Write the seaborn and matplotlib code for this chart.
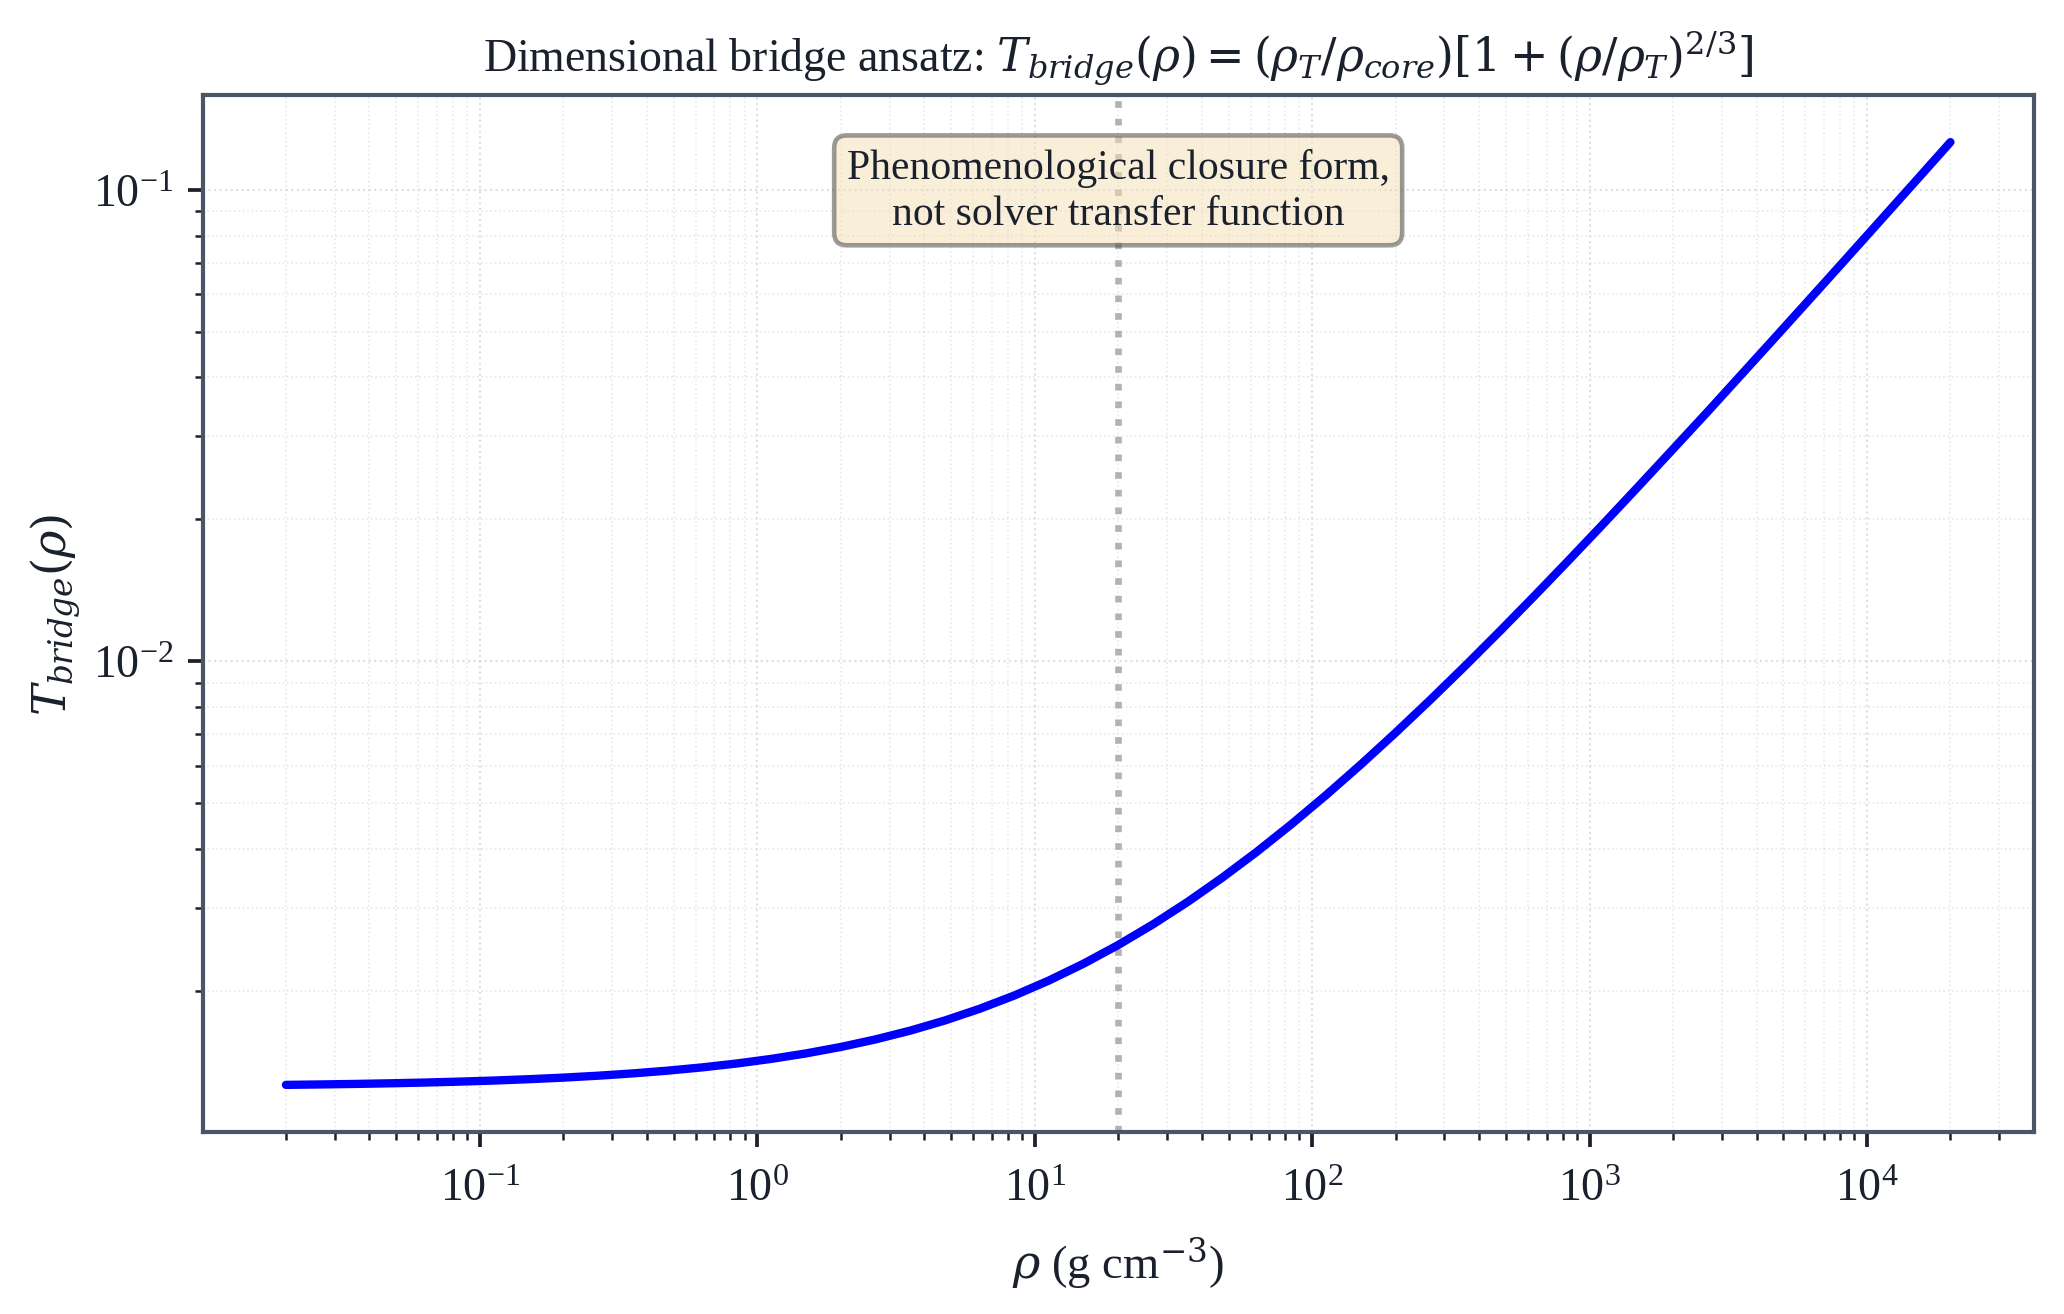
import numpy as np
import pandas as pd
import matplotlib
matplotlib.use("Agg")
import matplotlib.pyplot as plt
import seaborn as sns

# Values (density in g cm^-3, bridge transfer value)
density = [0.02, 0.02667, 0.03557, 0.04743, 0.06325, 0.08434, 0.11247, 0.14998,
           0.2, 0.2667, 0.3557, 0.4743, 0.6325, 0.8434, 1.1247, 1.4998,
           2.0, 2.667, 3.557, 4.743, 6.325, 8.434, 11.247, 14.998,
           20.0, 26.67, 35.57, 47.43, 63.25, 84.34, 112.47, 149.98,
           200.0, 266.7, 355.7, 474.3, 632.5, 843.4, 1124.7, 1499.8,
           2000.0, 2667.0, 3557.0, 4743.0, 6325.0, 8434.0, 11247.0, 14998.0,
           20000.0]
t_bridge = [0.0012625, 0.0012651, 0.0012683, 0.0012722, 0.0012769, 0.0012826,
            0.0012895, 0.0012979, 0.0013080, 0.0013203, 0.0013352, 0.0013532,
            0.0013750, 0.0014014, 0.0014335, 0.0014723, 0.0015193, 0.0015763,
            0.0016453, 0.0017289, 0.0018302, 0.0019529, 0.0021016, 0.0022818,
            0.0025000, 0.0027644, 0.0030848, 0.0034729, 0.0039430, 0.0045128,
            0.0052029, 0.0060390, 0.0070520, 0.0082793, 0.0097661, 0.0115675,
            0.0137500, 0.0163938, 0.0195975, 0.0234775, 0.0281800, 0.0338425,
            0.0407788, 0.0491400, 0.0592700, 0.0715425, 0.0864113, 0.1044250,
            0.1262500]
rho_transition = [20.0]

title_text = (r"Dimensional bridge ansatz: $T_{bridge}(\rho) = "
              r"(\rho_T/\rho_{core})[1 + (\rho/\rho_T)^{2/3}]$")
note_text = "Phenomenological closure form,\nnot solver transfer function"
xlabel_text = r"$\rho$ (g cm$^{-3}$)"
ylabel_text = r"$T_{bridge}(\rho)$"

sns.set_theme(style="ticks")
plt.rcParams["font.family"] = ["Liberation Serif", "DejaVu Serif"]
plt.rcParams["mathtext.fontset"] = "dejavuserif"

ink = "#1a202c"
spine_c = "#4a5568"

df = pd.DataFrame({"rho": density, "T": t_bridge})

fig = plt.figure(figsize=(6.88, 4.3833), dpi=300)
ax = fig.add_axes([0.0982, 0.1384, 0.8871, 0.7886])

sns.lineplot(data=df, x="rho", y="T", ax=ax, color="#0000ff", linewidth=2.0,
             zorder=3)
ax.set_xscale("log")
ax.set_yscale("log")

for r in rho_transition:
    ax.axvline(r, color="#a0a0a0", linestyle=":", linewidth=1.6, alpha=0.8,
               zorder=2)

ax.grid(True, which="major", linestyle=":", linewidth=0.5, color="#cbd2dc",
        alpha=0.7)
ax.grid(True, which="minor", linestyle=":", linewidth=0.4, color="#cbd2dc",
        alpha=0.5)

for s in ax.spines.values():
    s.set_color(spine_c)
    s.set_linewidth(1.0)

ax.tick_params(which="major", direction="out", length=3.5, width=0.9,
               color=ink, labelcolor=ink, labelsize=11)
ax.tick_params(axis="x", which="major", pad=5)
ax.tick_params(which="minor", direction="out", length=2.0, width=0.6,
               color=ink)

ax.set_title(title_text, fontsize=11, color=ink, pad=6)
ax.set_xlabel(xlabel_text, fontsize=11.2, color=ink, labelpad=6)
ax.set_ylabel(ylabel_text, fontsize=11.2, color=ink)
ax.yaxis.set_label_coords(-0.066, 0.5)

ax.text(0.5, 0.949, note_text, transform=ax.transAxes, ha="center", va="top",
        fontsize=10, color=ink, linespacing=1.25, zorder=5,
        bbox=dict(boxstyle="round,pad=0.3", facecolor="wheat", alpha=0.5,
                  edgecolor="#3a3a3a", linewidth=1.1))

fig.savefig("out.png", dpi=300)
